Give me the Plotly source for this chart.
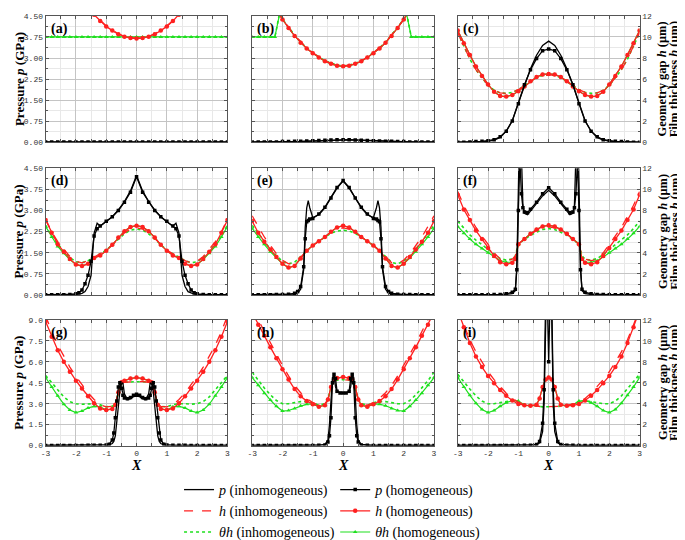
import plotly.graph_objects as go

# ---------------- data ----------------
# X grid shared by most film-thickness curves
X31 = [-3.0, -2.8, -2.6, -2.4, -2.2, -2.0, -1.8, -1.6, -1.4, -1.2, -1.0, -0.8, -0.6, -0.4, -0.2, 0.0,
       0.2, 0.4, 0.6, 0.8, 1.0, 1.2, 1.4, 1.6, 1.8, 2.0, 2.2, 2.4, 2.6, 2.8, 3.0]

# (a)  p in GPa, h in um
PI_A = [0.01] * 31
PH_A = [0.02] * 31
HH_A = [20.2, 18.9, 17.6, 16.5, 15.4, 14.5, 13.6, 12.8, 12.1, 11.5, 11.0, 10.6, 10.26, 10.03, 9.9, 9.85,
        9.9, 10.03, 10.26, 10.6, 11.0, 11.5, 12.1, 12.8, 13.6, 14.5, 15.4, 16.5, 17.6, 18.9, 20.2]
HI_A = [20.3, 19.0, 17.7, 16.6, 15.5, 14.6, 13.7, 12.85, 12.15, 11.55, 11.05, 10.65, 10.3, 10.07, 9.93, 9.88,
        9.93, 10.07, 10.3, 10.65, 11.05, 11.55, 12.15, 12.85, 13.7, 14.6, 15.5, 16.6, 17.7, 19.0, 20.3]
TH_A = [10.0] * 31
TI_A = [10.0] * 31

# (b)
PI_B = [0.01, 0.01, 0.01, 0.01, 0.02, 0.02, 0.02, 0.03, 0.03, 0.04, 0.05, 0.06, 0.07, 0.08, 0.09, 0.09,
        0.09, 0.08, 0.07, 0.06, 0.05, 0.04, 0.03, 0.03, 0.02, 0.02, 0.02, 0.01, 0.01, 0.01, 0.01]
PH_B = [0.02, 0.02, 0.02, 0.02, 0.02, 0.03, 0.03, 0.04, 0.04, 0.05, 0.06, 0.07, 0.08, 0.09, 0.1, 0.1,
        0.1, 0.09, 0.08, 0.07, 0.06, 0.05, 0.04, 0.04, 0.03, 0.03, 0.02, 0.02, 0.02, 0.02, 0.02]
HH_B = [17.1, 15.8, 14.6, 13.5, 12.5, 11.65, 10.85, 10.1, 9.45, 8.9, 8.45, 8.05, 7.7, 7.45, 7.28, 7.22,
        7.28, 7.45, 7.7, 8.05, 8.45, 8.9, 9.45, 10.1, 10.85, 11.65, 12.5, 13.5, 14.6, 15.8, 17.1]
HI_B = [17.2, 15.9, 14.7, 13.6, 12.6, 11.7, 10.9, 10.15, 9.5, 8.95, 8.5, 8.1, 7.75, 7.5, 7.32, 7.26,
        7.32, 7.5, 7.75, 8.1, 8.5, 8.95, 9.5, 10.15, 10.9, 11.7, 12.6, 13.6, 14.7, 15.9, 17.2]
X_TB = [-3.0, -2.8, -2.6, -2.4, -2.25, -2.1, -2.0, -1.8, -1.6, -1.4, -1.2, -1.0, -0.8, -0.6, -0.4, -0.2, 0.0,
        0.2, 0.4, 0.6, 0.8, 1.0, 1.2, 1.4, 1.6, 1.8, 2.0, 2.1, 2.25, 2.4, 2.6, 2.8, 3.0]
TH_B = [10.0, 10.0, 10.0, 10.0, 10.0, 12.1, 11.65, 10.85, 10.1, 9.45, 8.9, 8.45, 8.05, 7.7, 7.45, 7.28, 7.22,
        7.28, 7.45, 7.7, 8.05, 8.45, 8.9, 9.45, 10.1, 10.85, 11.65, 12.1, 10.0, 10.0, 10.0, 10.0, 10.0]
TI_B = [10.0, 10.0, 10.0, 10.0, 10.0, 12.2, 11.7, 10.9, 10.15, 9.5, 8.95, 8.5, 8.1, 7.75, 7.5, 7.32, 7.26,
        7.32, 7.5, 7.75, 8.1, 8.5, 8.95, 9.5, 10.15, 10.9, 11.7, 12.2, 10.0, 10.0, 10.0, 10.0, 10.0]

# (c)
PI_C = [0.01, 0.01, 0.01, 0.02, 0.02, 0.04, 0.08, 0.18, 0.4, 0.78, 1.38, 2.05, 2.62, 3.1, 3.45, 3.6,
        3.45, 3.1, 2.62, 2.05, 1.38, 0.78, 0.4, 0.18, 0.08, 0.04, 0.02, 0.02, 0.01, 0.01, 0.01]
PH_C = [0.01, 0.01, 0.02, 0.03, 0.04, 0.06, 0.1, 0.2, 0.4, 0.76, 1.38, 2.05, 2.58, 2.98, 3.26, 3.32,
        3.26, 2.98, 2.58, 2.05, 1.38, 0.76, 0.4, 0.2, 0.1, 0.06, 0.04, 0.03, 0.02, 0.01, 0.01]
HH_C = [10.6, 9.4, 8.3, 7.2, 6.3, 5.5, 4.8, 4.4, 4.35, 4.5, 4.85, 5.3, 5.8, 6.2, 6.45, 6.5,
        6.45, 6.2, 5.8, 5.3, 4.85, 4.5, 4.35, 4.4, 4.8, 5.5, 6.3, 7.2, 8.3, 9.4, 10.6]
HI_C = [10.4, 9.1, 7.9, 6.9, 6.1, 5.4, 4.95, 4.7, 4.65, 4.75, 5.0, 5.4, 5.8, 6.15, 6.35, 6.4,
        6.35, 6.15, 5.8, 5.4, 5.0, 4.75, 4.65, 4.7, 4.95, 5.4, 6.1, 6.9, 7.9, 9.1, 10.4]
TH_C = [10.6, 9.4, 8.3, 7.2, 6.3, 5.5, 4.8, 4.4, 4.35, 4.5, 4.85, 5.3, 5.8, 6.2, 6.45, 6.5,
        6.45, 6.2, 5.8, 5.3, 4.85, 4.5, 4.35, 4.4, 4.8, 5.5, 6.3, 7.2, 8.3, 9.4, 10.6]
TI_C = [10.4, 9.1, 7.9, 6.9, 6.1, 5.4, 4.95, 4.7, 4.65, 4.75, 5.0, 5.4, 5.8, 6.15, 6.35, 6.4,
        6.35, 6.15, 5.8, 5.4, 5.0, 4.75, 4.65, 4.7, 4.95, 5.4, 6.1, 6.9, 7.9, 9.1, 10.4]

# (d)
X_PD = [-3.0, -2.8, -2.6, -2.4, -2.2, -2.0, -1.9, -1.8, -1.7, -1.6, -1.5, -1.4, -1.3, -1.2, -1.0, -0.8, -0.6,
        -0.4, -0.2, 0.0, 0.2, 0.4, 0.6, 0.8, 1.0, 1.2, 1.3, 1.4, 1.5, 1.6, 1.7, 1.8, 1.9, 2.0, 2.2, 2.4,
        2.6, 2.8, 3.0]
PH_D = [0.01, 0.01, 0.01, 0.01, 0.02, 0.04, 0.08, 0.18, 0.4, 0.7, 1.2, 2.1, 2.35, 2.45, 2.62, 2.78, 3.0,
        3.3, 3.65, 4.2, 3.65, 3.3, 3.0, 2.78, 2.62, 2.45, 2.35, 2.1, 1.2, 0.7, 0.4, 0.18, 0.08, 0.04, 0.02,
        0.01, 0.01, 0.01, 0.01]
PI_D = [0.01, 0.01, 0.01, 0.01, 0.01, 0.02, 0.03, 0.06, 0.12, 0.3, 0.7, 2.2, 2.55, 2.45, 2.6, 2.78, 3.02,
        3.32, 3.7, 4.25, 3.7, 3.32, 3.02, 2.78, 2.6, 2.45, 2.55, 2.2, 0.7, 0.3, 0.12, 0.06, 0.03, 0.02, 0.01,
        0.01, 0.01, 0.01, 0.01]
HH_D = [7.1, 5.9, 4.8, 4.1, 3.4, 2.9, 2.75, 2.95, 3.5, 3.75, 4.2, 4.75, 5.45, 6.05, 6.45, 6.57,
        6.45, 6.05, 5.45, 4.75, 4.2, 3.75, 3.5, 2.95, 2.75, 2.9, 3.4, 4.1, 4.8, 5.9, 7.1]
HI_D = [7.2, 6.0, 5.05, 4.3, 3.65, 3.2, 3.05, 3.25, 3.6, 3.9, 4.25, 4.75, 5.35, 5.9, 6.25, 6.35,
        6.25, 5.9, 5.35, 4.75, 4.25, 3.9, 3.6, 3.25, 3.05, 3.2, 3.65, 4.3, 5.05, 6.0, 7.2]
TH_D = [6.5, 5.5, 4.6, 3.95, 3.35, 2.9, 2.75, 2.95, 3.5, 3.75, 4.2, 4.75, 5.45, 6.05, 6.45, 6.57,
        6.45, 6.05, 5.45, 4.75, 4.2, 3.75, 3.5, 2.95, 2.75, 2.9, 3.35, 3.95, 4.6, 5.5, 6.5]
TI_D = [6.6, 5.6, 4.8, 4.15, 3.55, 3.15, 3.05, 3.25, 3.6, 3.9, 4.25, 4.75, 5.3, 5.8, 6.15, 6.25,
        6.15, 5.8, 5.3, 4.75, 4.25, 3.9, 3.6, 3.25, 3.05, 3.15, 3.55, 4.15, 4.8, 5.6, 6.6]

# (e)
X_PE = [-3.0, -2.8, -2.6, -2.4, -2.2, -2.0, -1.8, -1.6, -1.5, -1.4, -1.3, -1.25, -1.2, -1.15, -1.1, -1.0,
        -0.8, -0.6, -0.4, -0.2, 0.0, 0.2, 0.4, 0.6, 0.8, 1.0, 1.1, 1.15, 1.2, 1.25, 1.3, 1.4, 1.5, 1.6,
        1.8, 2.0, 2.2, 2.4, 2.6, 2.8, 3.0]
PH_E = [0.01, 0.01, 0.01, 0.01, 0.02, 0.02, 0.03, 0.06, 0.12, 0.3, 1.0, 2.0, 2.6, 2.65, 2.7, 2.72,
        2.88, 3.12, 3.45, 3.82, 4.07, 3.82, 3.45, 3.12, 2.88, 2.72, 2.7, 2.65, 2.6, 2.0, 1.0, 0.3, 0.12, 0.06,
        0.03, 0.02, 0.02, 0.01, 0.01, 0.01, 0.01]
PI_E = [0.01, 0.01, 0.01, 0.01, 0.01, 0.01, 0.02, 0.03, 0.06, 0.2, 0.9, 2.4, 3.1, 3.35, 3.1, 2.75,
        2.85, 3.1, 3.45, 3.8, 4.05, 3.8, 3.45, 3.1, 2.85, 2.75, 3.1, 3.35, 3.1, 2.4, 0.9, 0.2, 0.06, 0.03,
        0.02, 0.01, 0.01, 0.01, 0.01, 0.01, 0.01]
HH_E = [7.0, 5.9, 5.05, 4.3, 3.6, 2.95, 2.6, 2.75, 3.45, 4.2, 4.7, 5.1, 5.5, 6.0, 6.4, 6.57,
        6.4, 6.0, 5.5, 5.1, 4.7, 4.2, 3.45, 2.75, 2.6, 2.95, 3.6, 4.3, 5.05, 5.9, 7.0]
HI_E = [7.5, 6.5, 5.5, 4.7, 3.9, 3.3, 2.95, 3.05, 3.6, 4.2, 4.7, 5.1, 5.5, 5.95, 6.25, 6.35,
        6.25, 5.95, 5.5, 5.1, 4.7, 4.2, 3.6, 3.05, 2.95, 3.3, 3.9, 4.7, 5.5, 6.5, 7.5]
TH_E = [6.3, 5.5, 4.8, 4.1, 3.5, 2.95, 2.6, 2.75, 3.45, 4.2, 4.7, 5.1, 5.5, 6.0, 6.4, 6.57,
        6.4, 6.0, 5.5, 5.1, 4.7, 4.2, 3.45, 2.75, 2.6, 2.95, 3.5, 4.1, 4.8, 5.5, 6.3]
TI_E = [6.6, 5.85, 5.05, 4.35, 3.7, 3.2, 2.95, 3.1, 3.65, 4.2, 4.7, 5.1, 5.45, 5.85, 6.05, 6.15,
        6.05, 5.85, 5.45, 5.1, 4.7, 4.2, 3.65, 3.1, 2.95, 3.2, 3.7, 4.35, 5.05, 5.85, 6.6]

# (f)
X_PF = [-3.0, -2.8, -2.6, -2.4, -2.2, -2.0, -1.8, -1.6, -1.4, -1.2, -1.1, -1.05, -1.0, -0.95, -0.9, -0.85,
        -0.8, -0.7, -0.6, -0.4, -0.2, 0.0, 0.2, 0.4, 0.6, 0.7, 0.8, 0.85, 0.9, 0.95, 1.0, 1.05, 1.1, 1.2,
        1.4, 1.6, 1.8, 2.0, 2.2, 2.4, 2.6, 2.8, 3.0]
PH_F = [0.01, 0.01, 0.01, 0.01, 0.01, 0.01, 0.02, 0.02, 0.04, 0.1, 0.2, 0.9, 3.0, 4.8, 3.6, 3.1,
        2.95, 2.92, 3.05, 3.3, 3.6, 3.81, 3.6, 3.3, 3.05, 2.92, 2.95, 3.1, 3.6, 4.8, 3.0, 0.9, 0.2, 0.1,
        0.04, 0.02, 0.02, 0.01, 0.01, 0.01, 0.01, 0.01, 0.01]
PI_F = [0.01, 0.01, 0.01, 0.01, 0.01, 0.01, 0.01, 0.01, 0.02, 0.05, 0.15, 1.0, 4.0, 6.5, 5.0, 3.2,
        2.9, 2.85, 2.98, 3.25, 3.52, 3.72, 3.52, 3.25, 2.98, 2.85, 2.9, 3.2, 5.0, 6.5, 4.0, 1.0, 0.15, 0.05,
        0.02, 0.01, 0.01, 0.01, 0.01, 0.01, 0.01, 0.01, 0.01]
X_HF = [-3.0, -2.8, -2.6, -2.4, -2.2, -2.0, -1.8, -1.6, -1.4, -1.2, -1.1, -1.0, -0.8, -0.6, -0.4, -0.2, 0.0,
        0.2, 0.4, 0.6, 0.8, 1.0, 1.1, 1.2, 1.4, 1.6, 1.8, 2.0, 2.2, 2.4, 2.6, 2.8, 3.0]
HH_F = [9.5, 8.1, 7.1, 6.1, 5.3, 4.45, 3.7, 3.1, 2.92, 3.05, 3.4, 4.8, 5.3, 5.8, 6.2, 6.5, 6.6,
        6.5, 6.2, 5.8, 5.3, 4.8, 3.4, 3.05, 2.92, 3.1, 3.7, 4.45, 5.3, 6.1, 7.1, 8.1, 9.5]
HI_F = [9.8, 8.5, 7.4, 6.4, 5.6, 4.75, 4.0, 3.4, 3.25, 3.4, 3.7, 4.85, 5.3, 5.75, 6.1, 6.35, 6.45,
        6.35, 6.1, 5.75, 5.3, 4.85, 3.7, 3.4, 3.25, 3.4, 4.0, 4.75, 5.6, 6.4, 7.4, 8.5, 9.8]
TH_F = [6.5, 5.85, 5.3, 4.8, 4.4, 4.0, 3.6, 3.25, 3.1, 3.1, 3.4, 4.8, 5.3, 5.8, 6.2, 6.5, 6.6,
        6.5, 6.2, 5.8, 5.3, 4.8, 3.4, 3.1, 3.1, 3.25, 3.6, 4.0, 4.4, 4.8, 5.3, 5.85, 6.5]
TI_F = [7.0, 6.3, 5.7, 5.2, 4.75, 4.3, 3.85, 3.45, 3.3, 3.4, 3.7, 4.85, 5.25, 5.65, 5.95, 6.2, 6.3,
        6.2, 5.95, 5.65, 5.25, 4.85, 3.7, 3.4, 3.3, 3.45, 3.85, 4.3, 4.75, 5.2, 5.7, 6.3, 7.0]

# (g)
X_PG = [-3.0, -2.8, -2.6, -2.4, -2.2, -2.0, -1.8, -1.6, -1.4, -1.2, -1.0, -0.9, -0.8, -0.75, -0.7, -0.65,
        -0.6, -0.55, -0.5, -0.45, -0.4, -0.3, -0.2, -0.1, 0.0, 0.1, 0.2, 0.3, 0.4, 0.45, 0.5, 0.55, 0.6,
        0.65, 0.7, 0.75, 0.8, 0.9, 1.0, 1.2, 1.4, 1.6, 1.8, 2.0, 2.2, 2.4, 2.6, 2.8, 3.0]
PH_G = [0.01, 0.01, 0.01, 0.01, 0.01, 0.01, 0.01, 0.02, 0.02, 0.03, 0.05, 0.1, 0.4, 0.9, 2.0, 3.2,
        4.2, 4.5, 4.1, 3.6, 3.4, 3.35, 3.45, 3.6, 3.67, 3.6, 3.45, 3.35, 3.4, 3.6, 4.1, 4.5, 4.2,
        3.2, 2.0, 0.9, 0.4, 0.1, 0.05, 0.03, 0.02, 0.02, 0.01, 0.01, 0.01, 0.01, 0.01, 0.01, 0.01]
PI_G = [0.01, 0.01, 0.01, 0.01, 0.01, 0.01, 0.01, 0.01, 0.01, 0.02, 0.03, 0.05, 0.15, 0.3, 0.7, 1.6,
        2.8, 3.9, 4.4, 4.5, 3.7, 3.3, 3.35, 3.5, 3.55, 3.5, 3.35, 3.3, 3.7, 4.5, 4.4, 3.9, 2.8,
        1.6, 0.7, 0.3, 0.15, 0.05, 0.03, 0.02, 0.01, 0.01, 0.01, 0.01, 0.01, 0.01, 0.01, 0.01, 0.01]
X_HG = [-3.0, -2.8, -2.6, -2.4, -2.2, -2.0, -1.8, -1.6, -1.4, -1.2, -1.0, -0.8, -0.7, -0.6, -0.5, -0.4, -0.2,
        0.0, 0.2, 0.4, 0.5, 0.6, 0.7, 0.8, 1.0, 1.2, 1.4, 1.6, 1.8, 2.0, 2.2, 2.4, 2.6, 2.8, 3.0]
HH_G = [11.85, 10.4, 9.1, 8.0, 7.05, 6.2, 5.45, 4.7, 4.05, 3.55, 3.4, 3.5, 3.9, 5.1, 6.05, 6.2, 6.4,
        6.5, 6.4, 6.2, 6.05, 5.1, 3.9, 3.5, 3.4, 3.55, 4.05, 4.7, 5.45, 6.2, 7.05, 8.0, 9.1, 10.4, 11.85]
HI_G = [12.4, 10.9, 9.6, 8.5, 7.5, 6.6, 5.8, 5.05, 4.4, 3.9, 3.7, 3.75, 4.0, 5.0, 5.95, 6.05, 6.1,
        6.1, 6.1, 6.05, 5.95, 5.0, 4.0, 3.75, 3.7, 3.9, 4.4, 5.05, 5.8, 6.6, 7.5, 8.5, 9.6, 10.9, 12.4]
TH_G = [6.5, 5.6, 4.75, 3.95, 3.4, 3.15, 3.3, 3.6, 3.75, 3.7, 3.4, 3.5, 3.9, 5.1, 6.05, 6.2, 6.4,
        6.5, 6.4, 6.2, 6.05, 5.1, 3.9, 3.5, 3.4, 3.7, 3.75, 3.6, 3.3, 3.15, 3.4, 3.95, 4.75, 5.6, 6.5]
TI_G = [6.7, 6.0, 5.3, 4.65, 4.2, 4.0, 3.95, 4.0, 4.0, 3.9, 3.7, 3.75, 4.0, 5.0, 5.95, 6.05, 6.1,
        6.1, 6.1, 6.05, 5.95, 5.0, 4.0, 3.75, 3.7, 3.9, 4.0, 4.0, 3.95, 4.0, 4.2, 4.65, 5.3, 6.0, 6.7]

# (h)
X_PH = [-3.0, -2.8, -2.6, -2.4, -2.2, -2.0, -1.8, -1.6, -1.4, -1.2, -1.0, -0.8, -0.6, -0.5, -0.45, -0.4,
        -0.35, -0.3, -0.25, -0.2, -0.1, 0.0, 0.1, 0.2, 0.25, 0.3, 0.35, 0.4, 0.45, 0.5, 0.6, 0.8, 1.0,
        1.2, 1.4, 1.6, 1.8, 2.0, 2.2, 2.4, 2.6, 2.8, 3.0]
PH_H = [0.01, 0.01, 0.01, 0.01, 0.01, 0.01, 0.01, 0.01, 0.01, 0.01, 0.01, 0.02, 0.05, 0.25, 0.7, 2.0,
        4.5, 5.1, 4.8, 3.9, 3.77, 3.77, 3.77, 3.9, 4.8, 5.1, 4.5, 2.0, 0.7, 0.25, 0.05, 0.02, 0.01,
        0.01, 0.01, 0.01, 0.01, 0.01, 0.01, 0.01, 0.01, 0.01, 0.01]
PI_H = [0.01, 0.01, 0.01, 0.01, 0.01, 0.01, 0.01, 0.01, 0.01, 0.01, 0.01, 0.02, 0.08, 0.4, 1.5, 3.6,
        4.9, 5.05, 4.2, 3.85, 3.8, 3.8, 3.8, 3.85, 4.2, 5.05, 4.9, 3.6, 1.5, 0.4, 0.08, 0.02, 0.01,
        0.01, 0.01, 0.01, 0.01, 0.01, 0.01, 0.01, 0.01, 0.01, 0.01]
X_HH = [-3.0, -2.8, -2.6, -2.4, -2.2, -2.0, -1.8, -1.6, -1.4, -1.2, -1.0, -0.8, -0.6, -0.5, -0.4, -0.3, -0.2,
        0.0, 0.2, 0.3, 0.4, 0.5, 0.6, 0.8, 1.0, 1.2, 1.4, 1.6, 1.8, 2.0, 2.2, 2.4, 2.6, 2.8, 3.0]
HH_H = [12.7, 11.55, 10.5, 9.4, 8.35, 7.3, 6.3, 5.4, 4.7, 4.25, 3.95, 3.72, 3.85, 4.4, 5.6, 6.35, 6.45,
        6.55, 6.45, 6.35, 5.6, 4.4, 3.85, 3.72, 3.95, 4.25, 4.7, 5.4, 6.3, 7.3, 8.35, 9.4, 10.5, 11.55, 12.7]
HI_H = [13.1, 12.0, 10.9, 9.75, 8.7, 7.65, 6.65, 5.75, 5.05, 4.5, 4.1, 3.85, 4.0, 4.4, 5.5, 6.15, 6.25,
        6.3, 6.25, 6.15, 5.5, 4.4, 4.0, 3.85, 4.1, 4.5, 5.05, 5.75, 6.65, 7.65, 8.7, 9.75, 10.9, 12.0, 13.1]
TH_H = [6.5, 5.75, 5.0, 4.35, 3.75, 3.3, 3.35, 3.55, 3.8, 3.95, 3.95, 3.72, 3.85, 4.4, 5.6, 6.35, 6.45,
        6.55, 6.45, 6.35, 5.6, 4.4, 3.85, 3.72, 3.95, 3.95, 3.8, 3.55, 3.35, 3.3, 3.75, 4.35, 5.0, 5.75, 6.5]
TI_H = [7.0, 6.2, 5.5, 4.85, 4.3, 4.0, 4.0, 4.1, 4.2, 4.2, 4.1, 3.85, 4.0, 4.4, 5.5, 6.15, 6.25,
        6.3, 6.25, 6.15, 5.5, 4.4, 4.0, 3.85, 4.1, 4.2, 4.2, 4.1, 4.0, 4.0, 4.3, 4.85, 5.5, 6.2, 7.0]

# (i)
X_PI = [-3.0, -2.8, -2.6, -2.4, -2.2, -2.0, -1.8, -1.6, -1.4, -1.2, -1.0, -0.8, -0.6, -0.4, -0.3, -0.2,
        -0.15, -0.1, -0.05, 0.0, 0.05, 0.1, 0.15, 0.2, 0.3, 0.4, 0.6, 0.8, 1.0, 1.2, 1.4, 1.6, 1.8, 2.0,
        2.2, 2.4, 2.6, 2.8, 3.0]
PH_I = [0.01, 0.01, 0.01, 0.01, 0.01, 0.01, 0.01, 0.01, 0.01, 0.01, 0.01, 0.02, 0.03, 0.08, 0.3, 1.6,
        4.0, 10.5, 11.0, 6.0, 11.0, 10.5, 4.0, 1.6, 0.3, 0.08, 0.03, 0.02, 0.01, 0.01, 0.01, 0.01, 0.01,
        0.01, 0.01, 0.01, 0.01, 0.01, 0.01]
PI_I = [0.01, 0.01, 0.01, 0.01, 0.01, 0.01, 0.01, 0.01, 0.01, 0.01, 0.01, 0.01, 0.02, 0.05, 0.2, 1.0,
        3.0, 9.5, 14.0, 16.0, 14.0, 9.5, 3.0, 1.0, 0.2, 0.05, 0.02, 0.01, 0.01, 0.01, 0.01, 0.01, 0.01,
        0.01, 0.01, 0.01, 0.01, 0.01, 0.01]
X_HI = [-3.0, -2.8, -2.6, -2.4, -2.2, -2.0, -1.8, -1.6, -1.4, -1.2, -1.0, -0.8, -0.6, -0.4, -0.3, -0.2, -0.1,
        0.0, 0.1, 0.2, 0.3, 0.4, 0.6, 0.8, 1.0, 1.2, 1.4, 1.6, 1.8, 2.0, 2.2, 2.4, 2.6, 2.8, 3.0]
HH_I = [12.9, 11.3, 9.8, 8.5, 7.5, 6.65, 5.95, 5.3, 4.75, 4.3, 3.97, 3.85, 3.8, 3.9, 4.5, 5.6, 6.3,
        6.5, 6.3, 5.6, 4.5, 3.9, 3.8, 3.85, 3.97, 4.3, 4.75, 5.3, 5.95, 6.65, 7.5, 8.5, 9.8, 11.3, 12.9]
HI_I = [13.0, 11.5, 10.1, 8.95, 7.95, 7.05, 6.3, 5.6, 5.0, 4.5, 4.15, 3.95, 3.85, 3.75, 3.72, 3.7, 3.7,
        3.7, 3.7, 3.7, 3.72, 3.75, 3.85, 3.95, 4.15, 4.5, 5.0, 5.6, 6.3, 7.05, 7.95, 8.95, 10.1, 11.5, 13.0]
TH_I = [6.5, 5.6, 4.8, 4.05, 3.45, 3.15, 3.35, 3.75, 4.1, 4.3, 4.25, 3.85, 3.8, 3.9, 4.5, 5.6, 6.3,
        6.5, 6.3, 5.6, 4.5, 3.9, 3.8, 3.85, 4.25, 4.3, 4.1, 3.75, 3.35, 3.15, 3.45, 4.05, 4.8, 5.6, 6.5]
TI_I = [6.8, 6.05, 5.4, 4.75, 4.25, 4.0, 4.0, 4.1, 4.2, 4.3, 4.2, 3.95, 3.85, 3.75, 3.72, 3.7, 3.7,
        3.7, 3.7, 3.7, 3.72, 3.75, 3.85, 3.95, 4.2, 4.3, 4.2, 4.1, 4.0, 4.0, 4.25, 4.75, 5.4, 6.05, 6.8]

PANEL_LABELS = ["(a)", "(b)", "(c)", "(d)", "(e)", "(f)", "(g)", "(h)", "(i)"]
P_MAX = [4.5, 4.5, 9.0]          # pressure axis top per row (GPa)
H_MAX = 12                        # film thickness axis top (um)
X_TICKS = [-3, -2, -1, 0, 1, 2, 3]
X_TICKTEXT = ["-3", "-2", "-1", "0", "1", "2", "3"]
NAMES = ["<i>p</i> (inhomogeneous)", "<i>p</i> (homogeneous)",
         "<i>h</i> (inhomogeneous)", "<i>h</i> (homogeneous)",
         "<i>θh</i> (inhomogeneous)", "<i>θh</i> (homogeneous)"]

# panel -> (p hom x, p hom, p inh x, p inh, h x, h hom, h inh, th x, th hom, th inh)
PANELS = [
    (X31, PH_A, X31, PI_A, X31, HH_A, HI_A, X31, TH_A, TI_A),
    (X31, PH_B, X31, PI_B, X31, HH_B, HI_B, X_TB, TH_B, TI_B),
    (X31, PH_C, X31, PI_C, X31, HH_C, HI_C, X31, TH_C, TI_C),
    (X_PD, PH_D, X_PD, PI_D, X31, HH_D, HI_D, X31, TH_D, TI_D),
    (X_PE, PH_E, X_PE, PI_E, X31, HH_E, HI_E, X31, TH_E, TI_E),
    (X_PF, PH_F, X_PF, PI_F, X_HF, HH_F, HI_F, X_HF, TH_F, TI_F),
    (X_PG, PH_G, X_PG, PI_G, X_HG, HH_G, HI_G, X_HG, TH_G, TI_G),
    (X_PH, PH_H, X_PH, PI_H, X_HH, HH_H, HI_H, X_HH, TH_H, TI_H),
    (X_PI, PH_I, X_PI, PI_I, X_HI, HH_I, HI_I, X_HI, TH_I, TI_I),
]

# ---------------- styling / layout ----------------
W, H = 685, 540
COLS = [(33, 217), (242, 426), (450, 634)]   # pixel x extents
ROWS = [(4, 136), (163, 295), (321, 452)]    # pixel y extents
SERIF = "Liberation Serif"                   # a single family name; lists are not resolved
TICKFONT = dict(family="Liberation Mono", size=8, color="#333333")
GREEN = "#1ee01e"
RED = "#ff2020"
LINE = "#555555"
GRID = "#c4c4c4"
GRID_MINOR = "#e8e8e8"

fig = go.Figure()
layout = {}
annotations = []

for i, (xph, ph, xpi, pi, xh, hh, hi, xt, th, ti) in enumerate(PANELS):
    n = i + 1
    r, c = divmod(i, 3)
    xa = "x" if n == 1 else f"x{n}"
    yh = "y" if n == 1 else f"y{2 * n - 1}"
    yp = f"y{2 * n}"
    show = n == 1

    common = dict(xaxis=xa, showlegend=show)
    fig.add_scatter(x=xt, y=ti, yaxis=yh, mode="lines", name=NAMES[4],
                    line=dict(color=GREEN, width=1.6, dash="dot"),
                    legend="legend", legendrank=3, **common)
    fig.add_scatter(x=xt, y=th, yaxis=yh, mode="lines+markers", name=NAMES[5],
                    line=dict(color=GREEN, width=1.2),
                    marker=dict(symbol="triangle-up", size=4, color=GREEN),
                    legend="legend2", legendrank=3, **common)
    fig.add_scatter(x=xh, y=hi, yaxis=yh, mode="lines", name=NAMES[2],
                    line=dict(color=RED, width=1.3, dash="dash"),
                    legend="legend", legendrank=2, **common)
    fig.add_scatter(x=xh, y=hh, yaxis=yh, mode="lines+markers", name=NAMES[3],
                    line=dict(color=RED, width=1.3),
                    marker=dict(symbol="circle", size=4.5, color=RED),
                    legend="legend2", legendrank=2, **common)
    fig.add_scatter(x=xpi, y=pi, yaxis=yp, mode="lines", name=NAMES[0],
                    line=dict(color="black", width=1.3),
                    legend="legend", legendrank=1, **common)
    fig.add_scatter(x=xph, y=ph, yaxis=yp, mode="lines+markers", name=NAMES[1],
                    line=dict(color="black", width=1.3),
                    marker=dict(symbol="square", size=3.5, color="black"),
                    legend="legend2", legendrank=1, **common)

    x0, x1 = COLS[c]
    y0, y1 = ROWS[r]
    xdom = [x0 / W, x1 / W]
    ydom = [1 - y1 / H, 1 - y0 / H]
    pm = P_MAX[r]

    layout["xaxis" if n == 1 else f"xaxis{n}"] = dict(
        domain=xdom, anchor=yh, range=[-3, 3],
        tickmode="array", tickvals=X_TICKS, ticktext=X_TICKTEXT,
        showticklabels=(r == 2), tickfont=TICKFONT,
        ticks="inside", ticklen=3, tickcolor=LINE,
        showgrid=True, gridcolor=GRID, gridwidth=1,
        minor=dict(tickmode="linear", tick0=0, dtick=0.5, ticks="inside", ticklen=2,
                   tickcolor=LINE, showgrid=True, gridcolor=GRID_MINOR),
        showline=True, linecolor=LINE, linewidth=1, mirror="allticks", zeroline=False,
    )
    layout["yaxis" if n == 1 else f"yaxis{2 * n - 1}"] = dict(
        domain=ydom, anchor=xa, side="right", range=[0, H_MAX],
        tick0=0, dtick=2, showticklabels=(c == 2), tickfont=TICKFONT,
        ticks="inside", ticklen=3, tickcolor=LINE,
        showgrid=True, gridcolor=GRID, gridwidth=1,
        minor=dict(tick0=0, dtick=1, ticks="inside", ticklen=2, tickcolor=LINE,
                   showgrid=True, gridcolor=GRID_MINOR),
        showline=True, linecolor=LINE, linewidth=1, zeroline=False,
    )
    layout[f"yaxis{2 * n}"] = dict(
        overlaying=yh, anchor=xa, side="left", range=[0, pm],
        tick0=0, dtick=pm / 6, tickformat=".2f" if pm < 5 else ".1f",
        showticklabels=(c == 0), tickfont=TICKFONT,
        ticks="inside", ticklen=3, tickcolor=LINE, showgrid=False,
        minor=dict(tick0=0, dtick=pm / 12, ticks="inside", ticklen=2, tickcolor=LINE, showgrid=False),
        showline=True, linecolor=LINE, linewidth=1, zeroline=False,
    )

    annotations.append(dict(
        text=f"<b>{PANEL_LABELS[i]}</b>", xref="paper", yref="paper",
        x=(x0 + 3) / W, y=1 - (y0 + 3) / H, xanchor="left", yanchor="top",
        showarrow=False, font=dict(family=SERIF, size=14, color="black"),
    ))

for r, (y0, y1) in enumerate(ROWS):
    yc = 1 - (y0 + y1) / 2 / H
    annotations.append(dict(
        text="<b>Pressure <i>p</i> (GPa)</b>", xref="paper", yref="paper",
        x=6 / W, y=yc, xanchor="center", yanchor="middle", textangle=-90,
        showarrow=False, font=dict(family=SERIF, size=13, color="black"),
    ))
    for xc, txt in ((657, "<b>Geometry gap <i>h</i> (μm)</b>"), (669, "<b>Film thickness <i>h</i> (μm)</b>")):
        annotations.append(dict(
            text=txt, xref="paper", yref="paper", x=xc / W, y=yc,
            xanchor="center", yanchor="middle", textangle=-90, showarrow=False,
            font=dict(family=SERIF, size=12.5, color="black"),
        ))

for x0, x1 in COLS:
    annotations.append(dict(
        text="<b><i>X</i></b>", xref="paper", yref="paper",
        x=(x0 + x1) / 2 / W, y=1 - 473 / H, xanchor="center", yanchor="middle",
        showarrow=False, font=dict(family=SERIF, size=14, color="black"),
    ))

legend_style = dict(
    yanchor="top", xanchor="left", y=1 - 482 / H,
    font=dict(family=SERIF, size=14, color="black"),
    bgcolor="rgba(0,0,0,0)", tracegroupgap=0, itemwidth=30,
)

fig.update_layout(
    **layout,
    annotations=annotations,
    width=W, height=H,
    margin=dict(l=0, r=0, t=0, b=0),
    paper_bgcolor="white", plot_bgcolor="white",
    font=dict(family=SERIF),
    showlegend=True,
    legend=dict(x=168 / W, **legend_style),
    legend2=dict(x=326 / W, **legend_style),
)

fig.write_html("out.html")
